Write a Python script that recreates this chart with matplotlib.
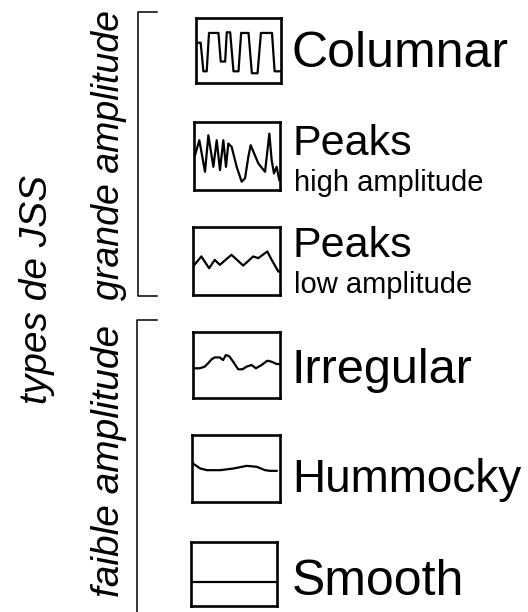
import matplotlib
matplotlib.use("Agg")
import matplotlib.pyplot as plt

# Types de JSS : formes d'onde (x et y normalises dans chaque cadre)
columnar_x = [0, .055, .087, .126, .153, .264, .291, .343, .362, .402, .441, .5,
              .531, .618, .657, .724, .764, .894, .925, 1.0]
columnar_y = [.62, .62, .18, .18, .77, .77, .33, .33, .78, .78, .18, .18,
              .77, .77, .15, .15, .77, .77, .18, .18]

peaks_high_x = [.012, .062, .128, .167, .225, .264, .302, .341, .372, .399, .438,
                .496, .554, .593, .632, .659, .748, .826, .876, .903, .930, .961, .992]
peaks_high_y = [.512, .732, .268, .805, .341, .732, .293, .732, .341, .683, .634,
                .341, .122, .171, .488, .659, .390, .268, .829, .439, .244, .341, .146]

peaks_low_x = [0, .096, .185, .25, .308, .442, .577, .692, .75, .854, .904, .981, 1.0]
peaks_low_y = [.419, .567, .394, .517, .443, .591, .433, .567, .542, .640, .517, .345, .345]

irregular_x = [.008, .077, .135, .173, .212, .25, .308, .346, .377, .415, .462, .519,
               .569, .615, .673, .723, .788, .854, .904, .962, 1.0]
irregular_y = [.45, .45, .475, .525, .585, .615, .615, .575, .65, .635, .55, .435,
               .435, .475, .5, .45, .5, .565, .55, .515, .515]

hummocky_x = [.01, .094, .17, .321, .472, .623, .736, .83, .887, .962]
hummocky_y = [.575, .5, .475, .475, .5, .54, .525, .475, .465, .465]

smooth_x = [0, 1]
smooth_y = [.378, .378]

labels = ["Columnar", "Peaks", "Peaks", "Irregular", "Hummocky", "Smooth"]
sublabels = ["", "high amplitude", "low amplitude", "", "", ""]
waves = [(columnar_x, columnar_y), (peaks_high_x, peaks_high_y),
         (peaks_low_x, peaks_low_y), (irregular_x, irregular_y),
         (hummocky_x, hummocky_y), (smooth_x, smooth_y)]

W, H = 528, 612
plt.rcParams['font.family'] = ['Liberation Sans', 'DejaVu Sans']

fig = plt.figure(figsize=(W / 100, H / 100), dpi=100)
ax = fig.add_axes([0, 0, 1, 1])
ax.set_xlim(0, W)
ax.set_ylim(H, 0)
ax.axis("off")

# cadres (gauche, haut, droite, bas) en pixels
boxes = [(196, 18, 281, 83), (194, 122, 280, 190), (193, 227, 280, 295),
         (193, 332, 280, 398), (192, 435, 280, 502), (191, 542, 277, 606)]

for (x0, y0, x1, y1), (wx, wy) in zip(boxes, waves):
    a = fig.add_axes([x0 / W, 1 - y1 / H, (x1 - x0) / W, (y1 - y0) / H])
    a.plot(wx, wy, color="black", lw=1.6)
    a.set_xlim(0, 1)
    a.set_ylim(0, 1)
    a.set_xticks([])
    a.set_yticks([])
    for s in a.spines.values():
        s.set_linewidth(1.9)

# libelles a droite
big_sizes = [36, 31, 31, 35, 33, 36]
baselines = [67, 155, 257, 383, 492, 595]
sub_baselines = [0, 191, 293, 0, 0, 0]
for lab, sub, fs, yb, ys in zip(labels, sublabels, big_sizes, baselines, sub_baselines):
    ax.text(292, yb, lab, fontsize=fs, ha="left", va="baseline")
    if sub:
        ax.text(294, ys, sub, fontsize=21, ha="left", va="baseline")

# accolades
ax.plot([157, 138, 138, 157], [12, 12, 296, 296], color="black", lw=1.1)
ax.plot([157, 137, 137], [320, 320, 612], color="black", lw=1.1)

# textes verticaux
ax.text(109, 155, "grande amplitude", fontsize=27, style="italic",
        rotation=90, ha="center", va="center")
ax.text(109, 461, "faible amplitude", fontsize=28, style="italic",
        rotation=90, ha="center", va="center")
ax.text(37, 290, "types de JSS", fontsize=28, style="italic",
        rotation=90, ha="center", va="center")

fig.savefig("out.png", dpi=100, facecolor="white")
